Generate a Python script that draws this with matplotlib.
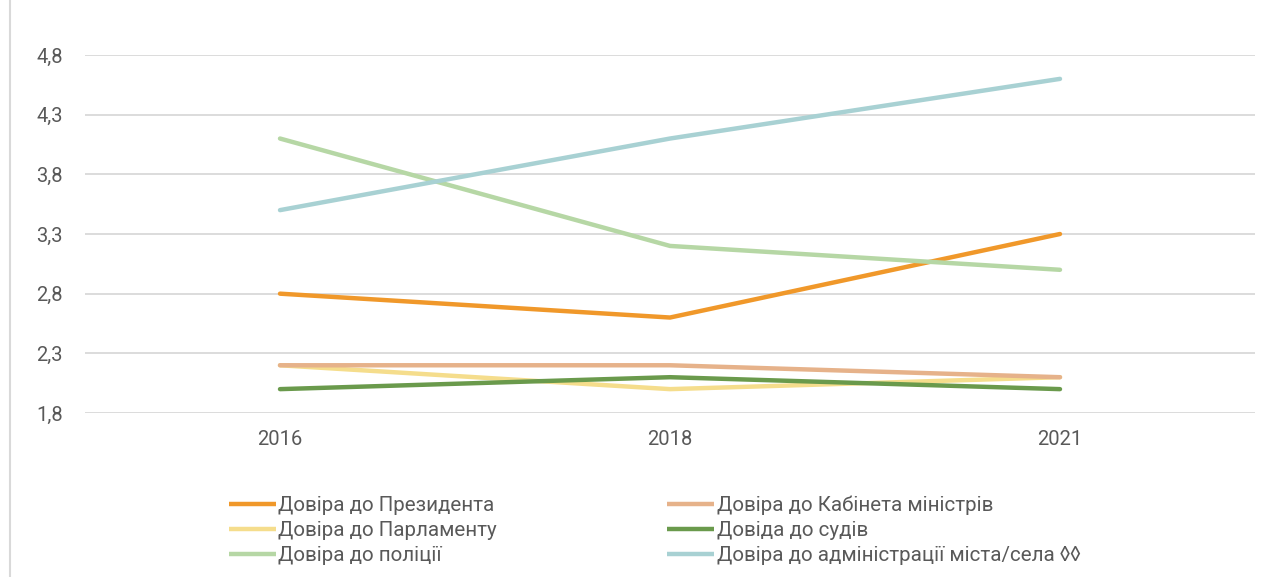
import matplotlib.pyplot as plt
from matplotlib.lines import Line2D

plt.rcParams['font.family'] = ['Roboto', 'DejaVu Sans']

years = ["2016", "2018", "2021"]
president = [2.8, 2.6, 3.3]
cabinet = [2.2, 2.2, 2.1]
parliament = [2.2, 2.0, 2.1]
courts = [2.0, 2.1, 2.0]
police = [4.1, 3.2, 3.0]
admin = [3.5, 4.1, 4.6]

labels = ["Довіра до Президента", "Довіра до Кабінета міністрів",
          "Довіра до Парламенту", "Довіда до судів",
          "Довіра до поліції", "Довіра до адміністрації міста/села \u25ca\u25ca"]
colors = ["#F0982A", "#E6B28A", "#F5DD8C", "#6A9A4C", "#B6D7A5", "#A8D1D3"]
series = [president, cabinet, parliament, courts, police, admin]
# draw order so the lines overlap like the original
order = [2, 1, 3, 0, 4, 5]

fig = plt.figure(figsize=(12.82, 5.77), dpi=100)
ax = fig.add_axes([85/1282, 1 - 413/577, (1255-85)/1282, (413-55)/577])

x = range(len(years))
for i in order:
    ax.plot(x, series[i], color=colors[i], lw=3.2, solid_capstyle='round', zorder=3)

ax.set_xlim(-0.5, 2.5)
ax.set_ylim(1.8, 4.8)
ax.set_yticks([1.8, 2.3, 2.8, 3.3, 3.8, 4.3, 4.8])
ax.set_yticklabels(["1,8", "2,3", "2,8", "3,3", "3,8", "4,3", "4,8"])
ax.set_xticks(list(x))
ax.set_xticklabels(years)
ax.tick_params(length=0, labelsize=14.5, colors="#595959", pad=16)
ax.tick_params(axis='x', pad=12)
ax.grid(axis='y', color="#D9D9D9", lw=1.3)
ax.set_axisbelow(True)
for s in ax.spines.values():
    s.set_visible(False)

# frame line on the left edge
fig.add_artist(Line2D([10/1282, 10/1282], [0, 1], color="#D9D9D9", lw=1.5))

# legend fills row by row like the original
leg_order = [0, 2, 4, 1, 3, 5]
handles = [Line2D([], [], color=colors[i], lw=3.2, solid_capstyle='butt') for i in leg_order]
leg = fig.legend(handles, [labels[i] for i in leg_order], ncol=2, loc='upper left',
                 bbox_to_anchor=(210/1282, 1 - 477/577), frameon=False,
                 fontsize=14.8, handlelength=2.3, handletextpad=0.1,
                 columnspacing=8.3, labelspacing=0.29)
for t in leg.get_texts():
    t.set_color("#595959")

fig.savefig("out.png", dpi=100, facecolor="white")
